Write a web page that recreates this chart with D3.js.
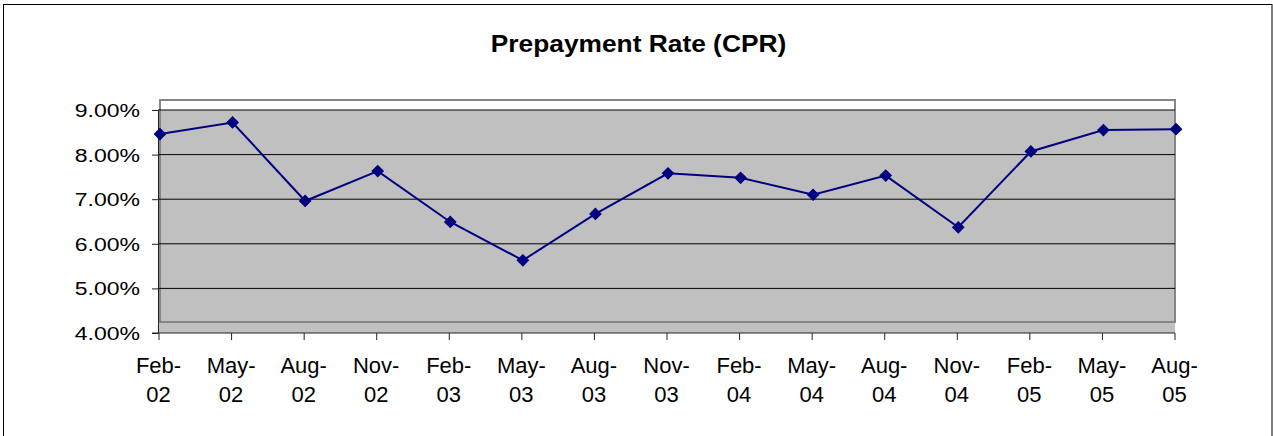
<!DOCTYPE html>
<html>
<head>
<meta charset="utf-8">
<script src="https://cdn.jsdelivr.net/npm/d3@7"></script>
<style>
  html, body { margin: 0; padding: 0; background: #fff; }
  svg { display: block; font-family: "Liberation Sans", Arial, sans-serif; }
</style>
</head>
<body>
<div id="app"></div>
<script>
const width = 1273;
const height = 436;

const categories = [
  "Feb-02", "May-02", "Aug-02", "Nov-02", "Feb-03", "May-03", "Aug-03", "Nov-03",
  "Feb-04", "May-04", "Aug-04", "Nov-04", "Feb-05", "May-05", "Aug-05"
];
// CPR in percent
const cprValues = [
  8.46, 8.72, 6.96, 7.63, 6.49, 5.63, 6.67, 7.58,
  7.48, 7.10, 7.53, 6.37, 8.07, 8.55, 8.57
];
const yTicks = [4, 5, 6, 7, 8, 9];
const title = "Prepayment Rate (CPR)";

const plot = { left: 158, right: 1175, top: 110, bottom: 333 };

const svg = d3.select("#app")
  .append("svg")
  .attr("width", width)
  .attr("height", height);

// outer chart border
svg.append("rect")
  .attr("x", 3.5)
  .attr("y", 4.5)
  .attr("width", 1268.5)
  .attr("height", 450)
  .attr("fill", "#fff")
  .attr("stroke", "#000")
  .attr("stroke-width", 1);

const x = d3.scalePoint()
  .domain(categories)
  .range([plot.left + 0.5, plot.right - 0.5]);

const y = d3.scaleLinear()
  .domain([4, 9])
  .range([plot.bottom, plot.top]);

// plot area fill + offset border (Excel look)
svg.append("rect")
  .attr("x", plot.left)
  .attr("y", plot.top)
  .attr("width", plot.right - plot.left)
  .attr("height", plot.bottom - plot.top)
  .attr("fill", "#c0c0c0");

svg.append("rect")
  .attr("x", 160)
  .attr("y", 100)
  .attr("width", plot.right - 160)
  .attr("height", 222)
  .attr("fill", "none")
  .attr("stroke", "#868686")
  .attr("stroke-width", 2);

// gridlines
svg.append("g")
  .selectAll("line")
  .data(yTicks.filter(d => d > 4))
  .join("line")
  .attr("x1", plot.left)
  .attr("x2", plot.right)
  .attr("y1", d => y(d))
  .attr("y2", d => y(d))
  .attr("stroke", "#000")
  .attr("stroke-width", 1);

// y axis
const yAxis = svg.append("g")
  .attr("transform", `translate(${plot.left},0)`)
  .call(d3.axisLeft(y).tickValues(yTicks).tickSize(6).tickSizeOuter(0).tickFormat(""));
yAxis.select(".domain").attr("stroke", "#222");
yAxis.selectAll(".tick line").attr("stroke", "#222");

svg.append("g")
  .selectAll("text")
  .data(yTicks)
  .join("text")
  .attr("transform", d => `translate(140,${y(d) + 6.9}) scale(1.2,1)`)
  .attr("text-anchor", "end")
  .attr("font-size", 19.2)
  .attr("fill", "#000")
  .text(d => d.toFixed(2) + "%");

// x axis
const xAxis = svg.append("g")
  .attr("transform", `translate(0,${plot.bottom})`)
  .call(d3.axisBottom(x).tickSize(7).tickSizeOuter(0).tickFormat(""));
xAxis.select(".domain")
  .attr("stroke", "#222")
  .attr("d", `M${plot.left - 6},0H${plot.right}`);
xAxis.selectAll(".tick line").attr("stroke", "#222");

const xLabels = svg.append("g")
  .selectAll("text")
  .data(categories)
  .join("text")
  .attr("text-anchor", "middle")
  .attr("font-size", 22)
  .attr("fill", "#000");

xLabels.append("tspan")
  .attr("x", d => x(d))
  .attr("y", 373.3)
  .text(d => d.split("-")[0] + "-");

xLabels.append("tspan")
  .attr("x", d => x(d))
  .attr("y", 402.3)
  .text(d => d.split("-")[1]);

// series
const line = d3.line()
  .x((d, i) => x(categories[i]) + 1.5)
  .y(d => y(d));

svg.append("path")
  .datum(cprValues)
  .attr("d", line)
  .attr("fill", "none")
  .attr("stroke", "#000080")
  .attr("stroke-width", 2);

svg.append("g")
  .selectAll("path")
  .data(cprValues)
  .join("path")
  .attr("transform", (d, i) => `translate(${x(categories[i]) + 1.5},${y(d)}) rotate(45)`)
  .attr("d", d3.symbol(d3.symbolSquare, 64))
  .attr("fill", "#000080")
  .attr("stroke", "#000080")
  .attr("stroke-width", 1);

// title
svg.append("text")
  .attr("transform", "translate(638.5,52.3) scale(1.07,1)")
  .attr("text-anchor", "middle")
  .attr("font-size", 24.6)
  .attr("font-weight", "bold")
  .attr("fill", "#000")
  .text(title);
</script>
</body>
</html>
